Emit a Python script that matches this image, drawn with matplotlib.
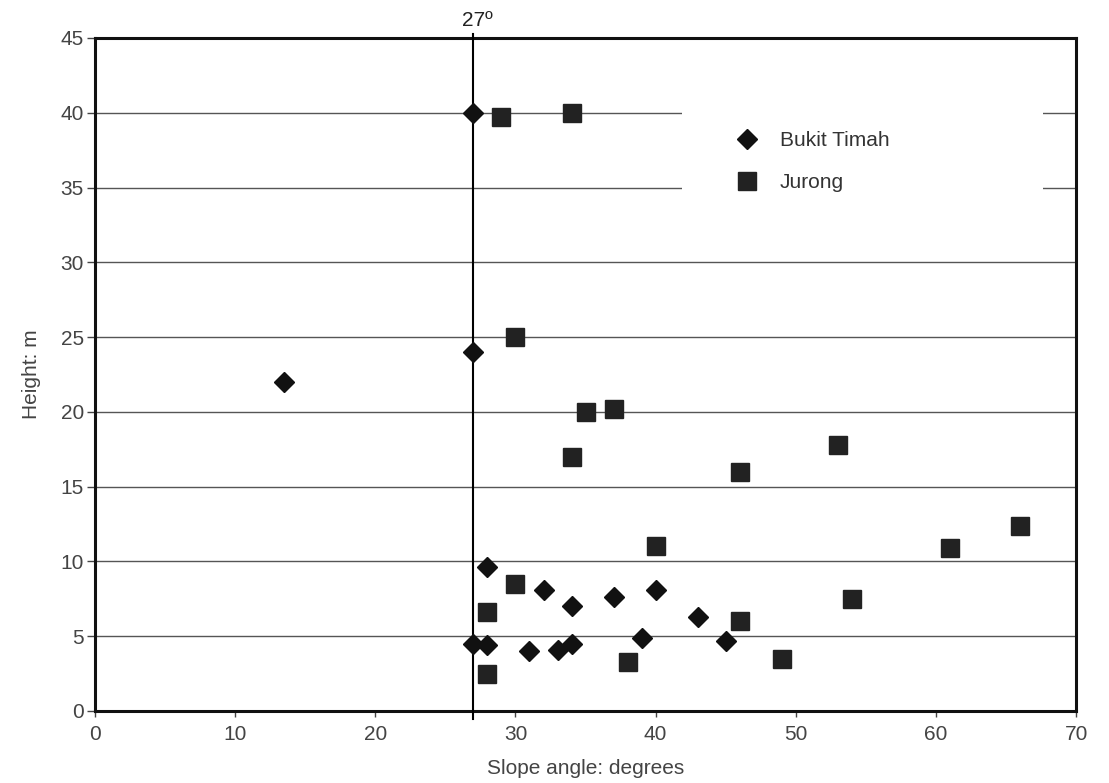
import matplotlib
matplotlib.use('Agg')
import matplotlib.pyplot as plt
from matplotlib.patches import Rectangle
from matplotlib.transforms import blended_transform_factory

plt.rcParams['font.family'] = ['Liberation Sans', 'DejaVu Sans']

# Bukit Timah (diamonds)
bt_angle = [27, 13.5, 27, 28, 32, 34, 37, 40, 43, 27, 28, 31, 33, 34, 39, 45]
bt_height = [40, 22, 24, 9.6, 8.1, 7.0, 7.6, 8.1, 6.3, 4.5, 4.4, 4.0, 4.1, 4.5, 4.9, 4.7]

# Jurong (squares)
ju_angle = [29, 34, 30, 35, 37, 34, 46, 53, 40, 61, 66, 30, 28, 54, 46, 38, 49, 28]
ju_height = [39.7, 40, 25, 20, 20.2, 17, 16, 17.8, 11, 10.9, 12.4, 8.5, 6.6, 7.5, 6.0, 3.3, 3.5, 2.5]

threshold = 27
y_ticks = [0, 5, 10, 15, 20, 25, 30, 35, 40, 45]
x_ticks = [0, 10, 20, 30, 40, 50, 60, 70]

fig = plt.figure(figsize=(11.09, 7.83), dpi=100)
ax = fig.add_axes([0.0857, 0.092, 0.8846, 0.8595])

for y in y_ticks[1:-1]:
    ax.axhline(y, color='#555555', lw=1.0, zorder=1)

# white patch behind the legend hides the gridlines there
ax.add_patch(Rectangle((0.598, 0.745), 0.368, 0.175, transform=ax.transAxes,
                       facecolor='white', edgecolor='none', zorder=2))

ax.axvline(threshold, ymin=-0.012, ymax=1.006, color='black', lw=1.5,
           clip_on=False, zorder=3)
trans = blended_transform_factory(ax.transData, ax.transAxes)
ax.text(threshold + 0.3, 1.012, '27º', transform=trans, ha='center', va='bottom',
        fontsize=15, color='#222222')

ax.plot(bt_angle, bt_height, linestyle='none', marker='D', ms=10,
        color='#111111', label='Bukit Timah', zorder=4)
ax.plot(ju_angle, ju_height, linestyle='none', marker='s', ms=13,
        color='#222222', label='Jurong', zorder=4)

ax.set_xlim(0, 70)
ax.set_ylim(0, 45)
ax.set_xticks(x_ticks)
ax.set_yticks(y_ticks)
ax.tick_params(labelsize=15, colors='#444444', width=1)
ax.tick_params(axis='x', length=4, pad=6)
ax.tick_params(axis='y', length=6, pad=2)
for s in ax.spines.values():
    s.set_linewidth(2.2)
    s.set_color('#111111')

ax.set_xlabel('Slope angle: degrees', fontsize=15, color='#444444', labelpad=11)
ax.set_ylabel('Height: m', fontsize=15, color='#444444', labelpad=14)

ax.legend(loc='center left', bbox_to_anchor=(0.643, 0.816), frameon=False,
          fontsize=15, handletextpad=0.6, labelspacing=1.1, borderpad=0,
          borderaxespad=0, labelcolor='#333333')

fig.savefig('out.png', dpi=100)
